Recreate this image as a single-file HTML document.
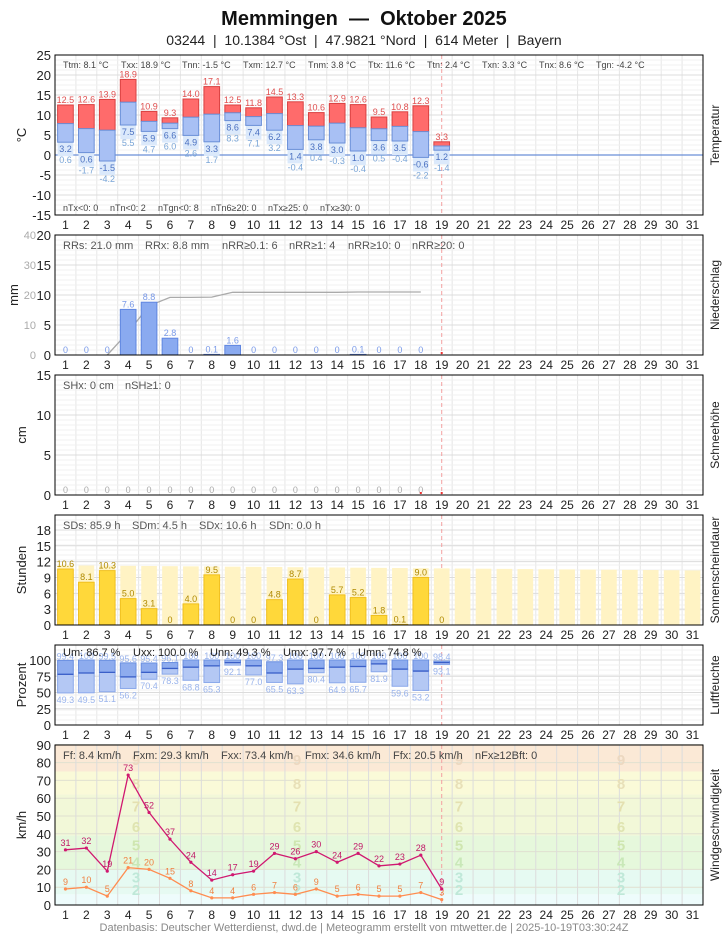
<!DOCTYPE html>
<html><head><meta charset="utf-8"><style>
body{margin:0;background:#fff;font-family:"Liberation Sans",sans-serif}
svg text{font-family:"Liberation Sans",sans-serif}
</style></head><body>
<svg id="s" width="728" height="935" xmlns="http://www.w3.org/2000/svg"></svg>
<script>
const S=document.getElementById('s');let h='';
const L=55,R=703,W=(R-L)/31;const cx=i=>L+(i-0.5)*W;
function t(x,y,s,sz,fill,anc,extra){h+=`<text x="${x}" y="${y}" font-size="${sz}" fill="${fill||'#333'}" text-anchor="${anc||'start'}" ${extra||''}>${s}</text>`;}
function r(x,y,w,hh,f,st){h+=`<rect x="${x}" y="${y}" width="${w}" height="${hh}" fill="${f}" ${st?`stroke="${st}" stroke-width="1"`:''}/>`;}
function ln(x1,y1,x2,y2,c,w,extra){h+=`<line x1="${x1}" y1="${y1}" x2="${x2}" y2="${y2}" stroke="${c}" stroke-width="${w||1}" ${extra||''}/>`;}
t(364,25,'Memmingen  —  Oktober 2025',20,'#111','middle','font-weight="bold" xml:space="preserve"');
t(364,45,'03244  |  10.1384 °Ost  |  47.9821 °Nord  |  614 Meter  |  Bayern',14,'#222','middle','xml:space="preserve"');
t(364,931,'Datenbasis: Deutscher Wetterdienst, dwd.de | Meteogramm erstellt von mtwetter.de | 2025-10-19T03:30:24Z',11,'#888','middle');
function panel(top,bot,ylab,rlab,ticks,ymap,lx){
  lx=lx||22;
  for(let i=1;i<31;i++)ln(L+i*W,top,L+i*W,bot,'#e6e6e6',1);
  for(let y=top+5;y<bot;y+=5)ln(L,y,R,y,'#f0f0f0',1);
  ticks.forEach(v=>{const y=ymap(v);ln(L,y,R,y,'#dcdcdc',1);t(51,y+5,v,13,'#222','end');});
  ln(L+18.5*W,top,L+18.5*W,bot,'#f4a0a0',1,'stroke-dasharray="4,3"');
  t(lx,(top+bot)/2,ylab,13,'#222','middle',`transform="rotate(-90 ${lx} ${(top+bot)/2})" dy="4"`);
  t(719,(top+bot)/2,rlab,12,'#222','middle',`transform="rotate(-90 719 ${(top+bot)/2})"`);
  for(let i=1;i<=31;i++)t(cx(i),bot+14,i,12,'#222','middle');
}
function frame(top,bot){h+=`<rect x="${L}" y="${top}" width="${R-L}" height="${bot-top}" fill="none" stroke="#000" stroke-width="1"/>`;}
// TEMP
const tx=[12.5,12.6,13.9,18.9,10.9,9.3,14.0,17.1,12.5,11.8,14.5,13.3,10.6,12.9,12.6,9.5,10.8,12.3,3.3];
const tn=[3.2,0.6,-1.5,7.5,5.9,6.6,4.9,3.3,8.6,7.4,6.2,1.4,3.8,3.0,1.0,3.6,3.5,-0.6,1.2];
const tg=[0.6,-1.7,-4.2,5.5,4.7,6.0,2.6,1.7,8.3,7.1,3.2,-0.4,0.4,-0.3,-0.4,0.5,-0.4,-2.2,-1.4];
let ty=v=>155-v*4;
panel(55,215,'°C','Temperatur',[25,20,15,10,5,0,-5,-10,-15],ty);
ln(L,155,R,155,'#6a8fd8',1.2);
const bw=W*0.75;
tx.forEach((x,i)=>{const c=cx(i+1),m=(x+tn[i])/2;
 r(c-bw/2,ty(tn[i]),bw,14,'#dbe9fb');
 r(c-bw/2,ty(x),bw,ty(m)-ty(x),'#ff6b6b','#d94040');
 r(c-bw/2,ty(m),bw,ty(tn[i])-ty(m),'#a8c0f4','#6a8fd8');
 t(c,ty(x)-2,x.toFixed(1),9,'#e05050','middle');
 t(c,ty(tn[i])+10,tn[i].toFixed(1),9,'#4a70c0','middle');
 t(c,ty(tn[i])+21,tg[i].toFixed(1),9,'#7aa6d8','middle');});
[['Ttm: 8.1 °C',63],['Txx: 18.9 °C',121],['Tnn: -1.5 °C',182],['Txm: 12.7 °C',243],['Tnm: 3.8 °C',308],['Ttx: 11.6 °C',368],['Ttn: 2.4 °C',427],['Txn: 3.3 °C',482],['Tnx: 8.6 °C',539],['Tgn: -4.2 °C',596]].forEach(a=>t(a[1],68,a[0],9,'#444'));
[['nTx&lt;0: 0',63],['nTn&lt;0: 2',110],['nTgn&lt;0: 8',158],['nTn6≥20: 0',211],['nTx≥25: 0',268],['nTx≥30: 0',320]].forEach(a=>t(a[1],211,a[0],9,'#444'));
frame(55,215);
// PRECIP
let py=v=>355-v*6;
panel(235,355,'mm','Niederschlag',[20,15,10,5,0],py,14);
[40,30,20,10,0].forEach((v,k)=>t(36,py(v/2)+4,v,11,'#aaa','end'));
const rr=[0,0,0,7.6,8.8,2.8,0,0.1,1.6,0,0,0,0,0,0.1,0,0,0];
let cum=0,pts=[];rr.forEach((v,i)=>{cum+=v;pts.push([cx(i+1),355-cum*3]);});
h+=`<polyline points="${pts.slice(2).map(p=>p.join(',')).join(' ')}" fill="none" stroke="#aaa" stroke-width="1.3"/>`;
rr.forEach((v,i)=>{const c=cx(i+1);if(v>0)r(c-bw/2,py(v),bw,v*6,'#8aaaf0','#5f86e0');t(c,py(v)-2,v==0?'0':v.toFixed(1),9,'#7a9ae8','middle');});
r(cx(19)-1,352,2,2,'#e33');
[['RRs: 21.0 mm',63],['RRx: 8.8 mm',145],['nRR≥0.1: 6',222],['nRR≥1: 4',289],['nRR≥10: 0',348],['nRR≥20: 0',412]].forEach(a=>t(a[1],249,a[0],11,'#555'));
frame(235,355);
// SNOW
let sy=v=>495-v*8;
panel(375,495,'cm','Schneehöhe',[15,10,5,0],sy);
for(let i=1;i<=18;i++)t(cx(i),493,'0',9,'#aaa','middle');
r(cx(18)-1,492,2,2,'#e33');r(cx(19)-1,492,2,2,'#e33');
t(63,389,'SHx: 0 cm',11,'#555');t(125,389,'nSH≥1: 0',11,'#555');
frame(375,495);
// SUN
let uy=v=>625-v*5.28;
panel(515,625,'Stunden','Sonnenscheindauer',[18,15,12,9,6,3,0],uy);
const sd=[10.6,8.1,10.3,5.0,3.1,0,4.0,9.5,0,0,4.8,8.7,0,5.7,5.2,1.8,0.1,9.0,0];
for(let i=1;i<=31;i++){const dl=11.3-(i-1)*0.032;r(cx(i)-bw/2,uy(dl),bw,dl*5.28,'#fff3c4');}
sd.forEach((v,i)=>{const c=cx(i+1);if(v>0)r(c-bw/2,uy(v),bw,v*5.28,'#ffd83a','#f0c020');t(c,uy(v)-2,v==0?'0':v.toFixed(1),9,'#b08a00','middle');});
[['SDs: 85.9 h',63],['SDm: 4.5 h',132],['SDx: 10.6 h',199],['SDn: 0.0 h',269]].forEach(a=>t(a[1],529,a[0],11,'#555'));
frame(515,625);
// HUM
let hy=v=>725-v*0.65;
panel(645,725,'Prozent','Luftfeuchte',[100,75,50,25,0],hy);
const ux=[99.4,100,99.5,95.6,95.4,96.1,100,100,100,100,97.3,100,100,100,100,100,100,100,98.4];
const un=[49.3,49.5,51.1,56.2,70.4,78.3,68.8,65.3,92.1,77.0,65.5,63.3,80.4,64.9,65.7,81.9,59.6,53.2,93.1];
const um=[78,80,81,74,81,87,89,91,96,91,80,86,87,89,90,94,86,83,96];
ux.forEach((v,i)=>{const c=cx(i+1);
 r(c-bw/2,hy(um[i]),bw,(um[i]-un[i])*0.65,'#b4c8f4','#8aa8ea');
 r(c-bw/2,hy(v),bw,(v-um[i])*0.65,'#8eacee','#6a8fe0');
 ln(c-bw/2,hy(um[i]),c+bw/2,hy(um[i]),'#3a5fc8',1.3);
 t(c,hy(v)-1,v==100?'100':v.toFixed(1),9,'#9ab4ec','middle');
 t(c,hy(un[i])+10,un[i].toFixed(1),9,'#9ab4ec','middle');});
[['Um: 86.7 %',63],['Uxx: 100.0 %',133],['Unn: 49.3 %',210],['Umx: 97.7 %',283],['Umn: 74.8 %',358]].forEach(a=>t(a[1],656,a[0],11,'#222'));
frame(645,725);
// WIND
let wy=v=>905-v*1.78;
const bands=[[0,6,'#eefcfc'],[6,20,'#e6faf2'],[20,39,'#e6f8dc'],[39,62,'#f2f8d8'],[62,75,'#fafad8'],[75,90,'#fbe9d6']];
panel(745,905,'km/h','Windgeschwindigkeit',[90,80,70,60,50,40,30,20,10,0],wy);
bands.forEach(b=>r(L,wy(b[1]),R-L,(b[1]-b[0])*1.78,b[2]));
[90,80,70,60,50,40,30,20,10].forEach(v=>ln(L,wy(v),R,wy(v),'#e0e0d0',1));
for(let i=1;i<31;i++)ln(L+i*W,745,L+i*W,905,'#dcdcdc',1);
[[2,9,'#bfe8d8'],[3,16,'#bfe8d8'],[4,24.5,'#c9e8b8'],[5,34,'#cfe6b0'],[6,44.5,'#dfe4b0'],[7,56,'#e4e0b0'],[8,68.5,'#e8e0b8'],[9,82,'#ecd8c0']].forEach(b=>{[136,297,459,621].forEach(x=>t(x,wy(b[1])+6,b[0],15,b[2],'middle','font-weight="bold"'));});
ln(L+18.5*W,745,L+18.5*W,905,'#f4a0a0',1,'stroke-dasharray="4,3"');
const fx=[31,32,19,73,52,37,24,14,17,19,29,26,30,24,29,22,23,28,9];
const fm=[9,10,5,21,20,15,8,4,4,6,7,6,9,5,6,5,5,7,3];
function ser(d,c,fc){h+=`<polyline points="${d.map((v,i)=>cx(i+1)+','+wy(v)).join(' ')}" fill="none" stroke="${c}" stroke-width="1.3"/>`;
 d.forEach((v,i)=>{h+=`<circle cx="${cx(i+1)}" cy="${wy(v)}" r="1.6" fill="${c}"/>`;t(cx(i+1),wy(v)-4,v,9,fc,'middle');});}
ser(fm,'#ff8c50','#f08040');ser(fx,'#d01870','#c01868');
[['Ff: 8.4 km/h',63],['Fxm: 29.3 km/h',133],['Fxx: 73.4 km/h',221],['Fmx: 34.6 km/h',305],['Ffx: 20.5 km/h',393],['nFx≥12Bft: 0',475]].forEach(a=>t(a[1],759,a[0],11,'#444'));
frame(745,905);
S.innerHTML=h;
</script>
</body></html>
